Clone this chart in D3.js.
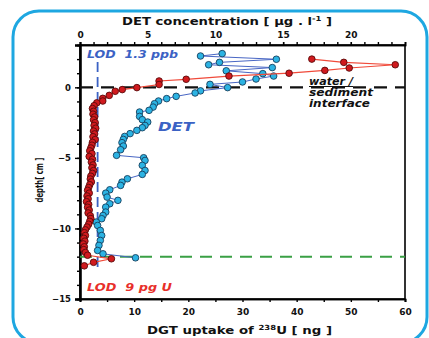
<!DOCTYPE html>
<html>
<head>
<meta charset="utf-8">
<script src="https://cdn.jsdelivr.net/npm/d3@7"></script>
<style>
  body { margin: 0; background: #fff; }
  text { font-family: "DejaVu Sans", Arial, sans-serif; }
</style>
</head>
<body>
<svg id="chart" width="429" height="338"></svg>
<script>
// DGT profile (red): depth [cm] and uptake of 238U [ng]
const dgtDepth = [2.0, 1.77, 1.6, 1.37, 1.2, 1.0, 0.8, 0.57, 0.45, 0.2, -0.02, -0.16, -0.28, -0.57, -0.78, -0.97, -1.1,
  -1.3, -1.5, -1.7, -1.9, -2.1, -2.3, -2.5, -2.7, -2.9, -3.1, -3.3, -3.5, -3.7, -3.9, -4.1, -4.3, -4.5, -4.7, -4.9,
  -5.1, -5.3, -5.5, -5.7, -5.9, -6.1, -6.3, -6.5, -6.7, -6.9, -7.1, -7.3, -7.5, -7.7, -7.9, -8.1, -8.3, -8.5, -8.7,
  -8.9, -9.1, -9.3, -9.5, -9.7, -9.9, -10.1, -10.3, -10.5, -10.7, -10.9, -11.1, -11.3, -11.5, -11.7, -11.9,
  -12.15, -12.4, -12.65];
const dgtUptake = [42.8, 48.7, 58.2, 49.7, 45.2, 38.6, 27.5, 19.6, 14.6, 14.6, 10.5, 7.8, 6.5, 5.4, 4.2, 4.2, 3.1,
  2.6, 2.3, 2.5, 2.4, 2.7, 2.5, 2.8, 2.6, 2.9, 2.5, 2.7, 2.4, 2.8, 2.3, 2.2, 2.0, 1.8, 2.2, 1.7,
  2.3, 2.1, 2.4, 2.2, 2.5, 2.3, 2.0, 1.9, 2.1, 1.8, 1.6, 1.4, 1.7, 1.3, 1.5, 1.2, 1.6, 1.4, 1.7,
  1.5, 1.9, 2.0, 1.8, 1.6, 1.3, 1.0, 0.8, 1.0, 0.7, 0.9, 0.6, 0.8, 0.7, 1.0, 1.4,
  5.8, 2.5, 0.8];

// DET profile (blue): depth [cm] and concentration [ug/l]
const detDepth = [2.39, 2.22, 1.99, 1.77, 1.6, 1.4, 1.17, 0.97, 0.8, 0.59, 0.38, 0.21, -0.02, -0.25, -0.4, -0.64,
  -0.8, -0.97, -1.16, -1.4, -1.63, -1.75, -2.06, -2.29, -2.46, -2.7, -2.86, -3.05, -3.28, -3.48, -3.69, -3.92,
  -4.16, -4.42, -4.82, -4.99, -5.18, -5.53, -5.89, -6.17, -6.48, -6.72, -6.95, -7.26, -7.5, -7.78, -8.01, -8.25,
  -8.49, -8.84, -9.08, -9.31, -9.55, -9.79, -10.14, -10.5, -10.85, -11.2, -11.56, -11.8, -12.08];
const detConc = [10.5, 8.9, 14.5, 10.3, 9.5, 14.2, 10.8, 13.5, 14.3, 13.0, 12.0, 9.6, 10.9, 8.9, 8.5, 7.1,
  6.4, 5.8, 5.5, 5.4, 5.1, 4.4, 4.4, 4.6, 5.0, 4.8, 4.6, 4.2, 3.7, 3.3, 3.2, 3.1,
  3.2, 3.0, 2.7, 4.7, 4.8, 4.6, 4.8, 4.6, 3.5, 3.1, 3.0, 2.2, 1.9, 2.0, 2.8, 2.2,
  1.9, 1.9, 1.7, 1.6, 1.2, 1.3, 1.5, 1.6, 1.5, 1.4, 1.3, 1.7, 4.1];

const bottomTicks = [0, 10, 20, 30, 40, 50, 60];
const topTicks = [0, 5, 10, 15, 20];
const depthTicks = [0, -5, -10, -15];
const detLod = 1.3;      // ppb
const interfaceDepth = 0;
const bottomDepth = -12;

const svg = d3.select("#chart");
const pLeft = 80, pRight = 405, pTop = 45, pBottom = 299;

const xBot = d3.scaleLinear().domain([0, 60]).range([pLeft, pRight]);
const xTop = d3.scaleLinear().domain([0, 24]).range([pLeft, pRight]);
const y = d3.scaleLinear().domain([-15, 3]).range([pBottom, pTop]);

// rounded blue frame
svg.append("rect")
  .attr("x", 13).attr("y", 11).attr("width", 414).attr("height", 332)
  .attr("rx", 26).attr("fill", "none")
  .attr("stroke", "#1ea7e1").attr("stroke-width", 3);

// plot box
svg.append("rect")
  .attr("x", pLeft).attr("y", pTop).attr("width", pRight - pLeft).attr("height", pBottom - pTop)
  .attr("fill", "none").attr("stroke", "#000").attr("stroke-width", 1.6);

// bottom axis
const gB = svg.append("g").attr("transform", "translate(0," + pBottom + ")");
gB.call(d3.axisBottom(xBot).tickValues(bottomTicks).tickSize(3).tickFormat(d3.format("d")));
svg.append("g").attr("transform", "translate(0," + pBottom + ")")
  .call(d3.axisBottom(xBot).tickValues(d3.range(5, 60, 10)).tickSize(3).tickFormat(""));

// top axis
const gT = svg.append("g").attr("transform", "translate(0," + pTop + ")");
gT.call(d3.axisTop(xTop).tickValues(topTicks).tickSize(3).tickFormat(d3.format("d")));
svg.append("g").attr("transform", "translate(0," + pTop + ")")
  .call(d3.axisTop(xTop).tickValues(d3.range(0, 24)).tickSize(3).tickFormat(""));

// left axis
const gL = svg.append("g").attr("transform", "translate(" + pLeft + ",0)");
gL.call(d3.axisLeft(y).tickValues(depthTicks).tickSize(5).tickFormat(d3.format("d")));
svg.append("g").attr("transform", "translate(" + pLeft + ",0)")
  .call(d3.axisLeft(y).tickValues(d3.range(-15, 4)).tickSize(3).tickFormat(""));

svg.selectAll(".domain").attr("stroke", "#000").attr("stroke-width", 1.6);
svg.selectAll(".tick line").attr("stroke", "#000").attr("stroke-width", 1.4);
svg.selectAll(".tick text").attr("font-size", 9).attr("font-weight", "bold")
  .attr("font-family", "'DejaVu Sans', Arial, sans-serif").attr("fill", "#111");
gL.select(".domain").attr("stroke-width", 2.4);
gL.selectAll(".tick text").attr("x", -9).attr("font-size", 8.5);
gB.selectAll(".tick text").attr("dy", "1.15em");
gT.selectAll(".tick text").attr("dy", "-0.15em");

// axis titles
svg.append("text").attr("x", 122).attr("y", 25)
  .attr("font-size", 11).attr("font-weight", "bold").attr("fill", "#111")
  .attr("textLength", 210).attr("lengthAdjust", "spacingAndGlyphs")
  .html('DET concentration [ µg . l<tspan dy="-4" font-size="7">-1</tspan><tspan dy="4"> ]</tspan>');
svg.append("text").attr("x", 147).attr("y", 334)
  .attr("font-size", 11).attr("font-weight", "bold").attr("fill", "#111")
  .attr("textLength", 185).attr("lengthAdjust", "spacingAndGlyphs")
  .html('DGT uptake of <tspan dy="-4" font-size="7">238</tspan><tspan dy="4">U [ ng ]</tspan>');
svg.append("text").attr("transform", "translate(43,180) rotate(-90)").attr("text-anchor", "middle")
  .attr("font-size", 10).attr("font-weight", "bold").attr("fill", "#111")
  .attr("textLength", 45).attr("lengthAdjust", "spacingAndGlyphs")
  .text("depth[ cm ]");

// reference lines
svg.append("line")
  .attr("x1", xBot(0)).attr("x2", xBot(60)).attr("y1", y(interfaceDepth)).attr("y2", y(interfaceDepth))
  .attr("stroke", "#111").attr("stroke-width", 2.2).attr("stroke-dasharray", "13,8");
svg.append("line")
  .attr("x1", xBot(0)).attr("x2", xBot(60)).attr("y1", y(bottomDepth)).attr("y2", y(bottomDepth))
  .attr("stroke", "#3aa045").attr("stroke-width", 2).attr("stroke-dasharray", "12,8");
svg.append("line")
  .attr("x1", xTop(detLod)).attr("x2", xTop(detLod)).attr("y1", y(1.8)).attr("y2", y(-12.8))
  .attr("stroke", "#3b62c4").attr("stroke-width", 1.8).attr("stroke-dasharray", "10,5");

// DET series
const det = detDepth.map((d, i) => ({ d: d, v: detConc[i] }));
svg.append("path").datum(det)
  .attr("fill", "none").attr("stroke", "#4866c4").attr("stroke-width", 1)
  .attr("d", d3.line().x(p => xTop(p.v)).y(p => y(p.d)));
svg.selectAll(".det").data(det).enter().append("circle")
  .attr("cx", p => xTop(p.v)).attr("cy", p => y(p.d)).attr("r", 3.3)
  .attr("fill", "#2cb3e3").attr("stroke", "#163f5e").attr("stroke-width", 0.9);

// DGT series
const dgt = dgtDepth.map((d, i) => ({ d: d, v: dgtUptake[i] }));
svg.append("path").datum(dgt)
  .attr("fill", "none").attr("stroke", "#f04a3a").attr("stroke-width", 1.2)
  .attr("d", d3.line().x(p => xBot(p.v)).y(p => y(p.d)));
svg.selectAll(".dgt").data(dgt).enter().append("circle")
  .attr("cx", p => xBot(p.v)).attr("cy", p => y(p.d)).attr("r", 3.3)
  .attr("fill", "#d01a1e").attr("stroke", "#5a0a0a").attr("stroke-width", 0.9);

// annotations
function note(x, yy, size, color, str, len) {
  return svg.append("text").attr("x", x).attr("y", yy).attr("font-size", size).attr("font-weight", "bold")
    .attr("font-style", "italic").attr("fill", color).attr("xml:space", "preserve")
    .attr("textLength", len).attr("lengthAdjust", "spacingAndGlyphs").text(str);
}
note(87, 58, 10, "#3b62c4", "LOD  1.3 ppb", 91);
note(158, 131, 13, "#3b62c4", "DET", 36);
note(87, 291, 10.5, "#e8302a", "LOD  9 pg U", 85);
note(309, 85, 10, "#111", "water /", 44).attr("text-decoration", "underline");
note(309, 96, 10, "#111", "sediment", 64);
note(309, 107, 10, "#111", "interface", 61);
</script>
</body>
</html>
